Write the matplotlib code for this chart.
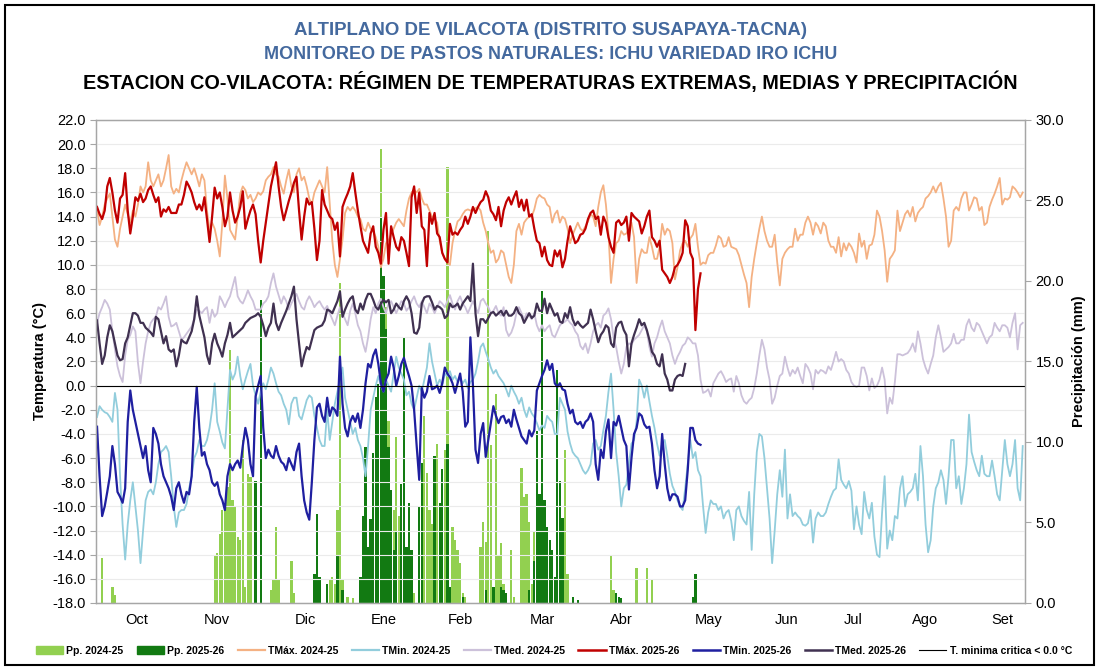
import matplotlib
matplotlib.use("Agg")
import matplotlib.pyplot as plt
import matplotlib.patches as patches
from matplotlib import font_manager
from matplotlib.lines import Line2D
import numpy as np

# fuente estrecha si existe (el original parece Calibri)
nombres = {f.name for f in font_manager.fontManager.ttflist}
fuente = 'Liberation Sans Narrow' if 'Liberation Sans Narrow' in nombres else 'Liberation Sans'
plt.rcParams['font.family'] = [fuente, 'DejaVu Sans']
plt.rcParams['axes.unicode_minus'] = False

# ---------------- datos (dia 0 = inicio de la campaña, mediados de setiembre) ----------------
meses = ['Oct', 'Nov', 'Dic', 'Ene', 'Feb', 'Mar', 'Abr', 'May', 'Jun', 'Jul', 'Ago', 'Set']
meses_dia = [15.5, 46.8, 81.4, 112, 142, 174, 205.2, 239.2, 269.8, 295.9, 323.9, 353.9]

tmax_2425 = [
    14.6, 13.3, 14.0, 15.0, 15.5, 15.9, 14.0, 12.1, 11.5, 13.0,
    14.0, 15.0, 14.2, 13.5, 14.5, 14.0, 15.0, 16.5, 16.0, 16.5,
    18.5, 17.0, 16.5, 17.0, 17.5, 16.5, 17.0, 18.0, 19.1, 16.5,
    15.9, 16.3, 16.0, 17.0, 17.8, 18.5, 18.0, 17.5, 18.0, 17.3,
    16.5, 17.5, 17.0, 14.5, 12.9, 13.5, 13.0, 12.0, 10.7, 13.5,
    17.4, 15.5, 12.9, 12.5, 12.1, 14.0, 15.9, 16.5, 16.2, 15.5,
    15.8, 15.2, 15.5, 16.0, 15.8, 16.1, 17.0, 17.3, 17.5, 18.1,
    17.5, 17.3, 16.5, 15.9, 17.0, 17.9, 16.5, 16.0, 17.5, 18.0,
    17.0, 17.3, 16.5, 15.5, 15.0, 16.0, 16.5, 17.0, 16.5, 16.0,
    18.1, 15.0, 12.0, 10.0, 9.0, 10.5, 12.1, 14.3, 14.8, 14.5,
    14.8, 14.5, 14.0, 13.8, 13.0, 12.8, 13.5, 13.0, 12.8, 12.3,
    11.5, 9.8, 10.5, 11.8, 12.0, 12.5, 13.0, 13.5, 13.8, 13.5,
    13.2, 14.5, 15.5, 16.0, 16.2, 16.0, 16.3, 15.5, 15.0, 15.0,
    14.5, 14.0, 13.8, 13.5, 12.0, 11.0, 10.5, 10.2, 10.0, 11.8,
    12.8, 13.6, 13.8, 14.2, 14.5, 14.6, 14.5, 14.6, 14.7, 14.8,
    14.5, 13.5, 12.8, 11.8, 11.0, 11.2, 10.2, 10.5, 11.2, 11.0,
    10.0, 9.0, 8.5, 10.0, 12.8, 13.4, 12.5, 13.5, 13.8, 14.0,
    14.0, 14.6, 15.5, 15.8, 15.6, 15.5, 15.0, 14.8, 13.5, 14.2,
    14.5, 13.5, 14.0, 13.8, 13.0, 11.8, 12.5, 13.0, 13.5, 13.0,
    12.8, 13.2, 13.6, 14.2, 14.0, 13.2, 14.8, 16.0, 16.6, 15.0,
    12.6, 8.5, 10.5, 11.8, 12.0, 12.8, 12.5, 12.6, 13.0, 13.5,
    12.3, 8.5, 10.5, 11.3, 11.0, 11.0, 12.3, 11.5, 10.5, 10.5,
    11.5, 13.4, 12.5, 13.0, 12.8, 11.8, 8.8, 9.8, 11.2, 11.8,
    12.0, 11.5, 12.2, 12.5, 13.4, 11.5, 10.0, 10.2, 10.1, 10.8,
    11.0, 11.0, 11.6, 12.4, 12.2, 11.5, 11.6, 12.3, 11.5, 11.4,
    11.3, 10.8, 10.0, 9.2, 8.5, 6.5, 9.0, 10.5, 11.8, 13.0,
    14.0, 12.8, 12.0, 11.5, 11.5, 12.5, 10.2, 8.3, 10.5, 11.0,
    11.3, 11.5, 11.5, 13.0, 12.0, 12.5, 12.5, 13.5, 14.0, 13.5,
    12.5, 13.5, 13.2, 12.6, 13.5, 13.2, 12.0, 11.5, 11.5, 11.0,
    12.3, 10.7, 11.8, 11.2, 11.8, 11.5, 11.0, 10.2, 12.6, 11.5,
    12.0, 10.5, 11.6, 11.7, 12.5, 14.5, 14.0, 12.8, 11.2, 8.6,
    10.5, 10.8, 11.2, 14.5, 12.8, 13.5, 14.2, 14.5, 14.0, 14.8,
    13.6, 14.3, 14.6, 14.8, 15.5, 15.7, 16.0, 16.5, 16.0, 16.5,
    16.8, 15.5, 14.0, 11.5, 12.0, 14.5, 14.8, 14.5, 15.5, 16.0,
    16.0, 14.5, 15.0, 15.6, 15.5, 14.5, 14.8, 13.3, 13.5, 14.8,
    15.4, 15.9, 16.5, 17.2, 15.0, 15.5, 15.4, 15.6, 16.5, 16.3,
    16.0, 15.6, 16.0]

tmin_2425 = [
    -2.6, -1.7, -2.0, -2.2, -2.3, -2.6, -3.0, -0.6, -2.0, -7.5,
    -11.5, -14.4, -11.5, -9.5, -8.0, -10.0, -12.0, -14.7, -12.0, -9.5,
    -8.8, -8.6, -9.0, -8.0, -6.5, -5.5, -5.3, -5.0, -5.5, -7.5,
    -10.0, -11.7, -10.5, -10.3, -10.3, -9.8, -8.5, -7.5, -6.0, -5.5,
    -4.5, -5.0, -5.0, -4.5, -3.5, -2.0, 0.2, -3.0, -3.8, -4.7,
    -5.2, -2.0, 1.3, 0.5, 1.0, 2.4, 0.8, -0.3, 0.5, 1.2,
    1.8, 0.0, -0.8, -1.5, -0.5, 0.2, -0.3, 0.5, 1.5, 1.0,
    0.2, -0.5, -0.8, -1.5, -2.0, -3.2, -1.5, -1.0, -1.0, -2.5,
    -2.8, -2.0, -1.2, -0.8, -1.0, -2.5, -3.5, -4.5, -5.0, -5.0,
    -2.0, -4.5, -3.0, -1.5, -0.5, 0.5, 1.5, -1.0, -2.0, -3.0,
    -4.0, -3.5, -4.5, -5.0, -6.0, -7.5, -5.0, -2.0, -1.0, 0.0,
    0.8, 0.0, -0.5, 0.5, 0.0, -0.5, 1.0, 2.4, 1.5, 1.0,
    0.5, -0.8, -0.5, -1.5, -2.0, -1.0, 0.0, -0.5, 0.5, 1.5,
    3.5, 2.0, 1.0, 0.0, 0.5, 0.0, 1.0, 0.8, 1.2, 0.5,
    0.8, 0.3, 0.6, 0.2, 0.5, -0.2, 0.3, 0.5, 1.0, 2.0,
    3.2, 3.5, 2.8, 2.2, 1.5, 1.0, 1.3, 0.8, 0.5, 0.2,
    -0.3, -0.9, 0.0, -0.5, -0.9, -1.5, -1.0, -2.0, -2.6, -1.8,
    -2.3, -2.6, -3.1, -3.7, -3.3, -3.5, -2.5, -2.8, -3.0, -4.0,
    -4.0, -1.0, -1.5, -2.0, -3.8, -4.8, -5.5, -5.8, -6.0, -6.5,
    -7.0, -7.3, -7.0, -6.5, -4.8, -4.5, -5.3, -5.0, -3.7, -2.5,
    -0.5, 1.0, -2.0, -5.5, -7.5, -10.0, -8.5, -8.2, -6.5, -4.8,
    -4.5, -3.0, 0.5, 0.0, -1.0, 0.0, -1.3, -2.5, -3.5, -4.8,
    -5.8, -4.8, -4.5, -5.8, -7.3, -8.3, -8.8, -9.5, -10.0, -10.3,
    -8.5, -6.5, -4.5, -6.0, -5.5, -7.0, -7.5, -10.0, -12.2, -10.5,
    -9.5, -9.8, -9.8, -10.3, -10.0, -11.0, -10.5, -10.3, -11.2, -12.8,
    -10.3, -10.0, -10.8, -11.2, -11.5, -8.8, -13.6, -9.0, -5.5, -4.0,
    -4.2, -6.0, -8.5, -11.0, -14.7, -12.0, -9.0, -7.0, -9.2, -5.3,
    -11.0, -9.0, -10.8, -10.5, -10.8, -11.0, -11.5, -11.6, -11.4, -10.3,
    -13.0, -11.0, -10.5, -10.8, -10.8, -10.5, -9.8, -9.2, -8.7, -8.5,
    -6.1, -7.8, -8.2, -8.5, -7.9, -8.7, -11.9, -10.0, -11.5, -12.3,
    -8.8, -10.3, -11.0, -9.7, -12.5, -14.0, -14.2, -10.5, -7.5, -13.5,
    -12.0, -12.8, -10.8, -11.0, -8.5, -7.5, -10.0, -9.0, -8.8, -8.5,
    -7.3, -9.5, -5.0, -7.5, -11.5, -13.8, -12.8, -10.0, -8.5, -8.0,
    -7.0, -7.8, -9.8, -7.5, -4.5, -4.5, -8.5, -7.5, -9.8, -8.5,
    -6.5, -2.4, -5.5, -6.3, -7.0, -7.5, -5.8, -7.3, -7.5, -7.5,
    -6.2, -7.5, -9.0, -9.5, -7.0, -4.5, -6.5, -7.5, -6.5, -4.5,
    -8.5, -9.5, -5.0]

tmed_2425 = [
    5.2, 6.0, 6.5, 7.1, 6.8, 6.3, 4.5, 3.0, 1.6, 0.8,
    0.3, 2.5, 3.8, 4.2, 4.9, 4.5, 1.9, 0.2, 2.0, 3.5,
    4.5, 5.2, 5.5, 5.7, 6.5, 6.3, 6.8, 7.4, 5.7, 4.9,
    5.0, 5.2, 4.5, 3.8, 4.0, 4.3, 4.6, 4.9, 5.5, 6.3,
    6.2, 6.0, 6.3, 6.5, 5.2, 6.3, 5.7, 6.0, 7.4, 7.0,
    6.5, 7.0, 7.4, 8.2, 9.0, 7.4, 7.0, 6.8, 7.3, 7.9,
    7.4, 7.0, 6.3, 6.3, 6.3, 6.8, 7.0, 7.4, 8.5, 9.3,
    8.2, 7.5, 6.8, 7.4, 7.0, 6.3, 6.8, 7.2, 7.6, 7.0,
    6.5, 6.3, 7.0, 7.4, 7.0, 6.5, 6.8, 7.0, 6.6, 6.3,
    6.6, 6.0, 5.5, 5.0, 5.8, 6.5, 6.0, 5.5, 5.0, 6.2,
    6.8, 6.0, 5.0, 4.5, 3.5, 2.8, 4.0, 5.5, 6.5, 6.0,
    6.8, 7.2, 6.5, 6.0, 6.8, 7.0, 6.5, 6.0, 6.5, 7.0,
    6.8, 6.2, 6.5, 7.0, 7.4, 6.8, 6.5, 7.0, 6.5, 6.0,
    6.8, 6.5, 6.0, 6.5, 7.0, 6.8, 6.5, 7.0, 7.5, 6.8,
    6.3, 7.0, 7.4, 6.8, 6.5, 6.0, 6.5, 7.0, 6.5, 6.0,
    7.0, 7.2, 6.8, 6.5, 6.0, 6.2, 6.6, 6.0, 5.8, 6.5,
    4.6, 4.1, 4.4, 5.0, 6.0, 6.5, 6.0, 5.5, 6.0, 5.8,
    5.5, 6.0, 5.0, 4.5, 5.0, 4.5, 4.8, 5.0, 4.2, 4.0,
    4.5, 5.0, 5.2, 5.3, 5.5, 5.2, 5.0, 4.5, 4.2, 3.3,
    3.0, 3.5, 2.7, 3.5, 4.5, 5.0, 5.2, 4.8, 5.8, 6.0,
    6.4, 5.5, 4.0, 3.2, 2.0, 1.0, 1.8, 3.2, 3.5, 3.4,
    3.8, 4.0, 4.2, 4.6, 5.0, 4.5, 3.2, 2.4, 3.5, 4.0,
    4.8, 5.4, 4.5, 4.0, 3.5, 2.5, 1.8, 2.4, 2.8, 3.3,
    3.5, 4.0, 3.8, 3.5, 3.5, 2.5, 0.5, -0.6, -0.5, -0.3,
    -0.9, 0.2, 0.6, 1.0, 1.2, 0.8, 0.3, 0.5, 0.6, -0.5,
    0.8, 0.2, -0.8, -1.3, -1.5, -1.2, -1.0, -0.2, 1.0, 2.5,
    3.8, 3.0, 1.5, 0.5, -1.5, -1.0, 0.0, 0.8, 1.0, 2.4,
    1.5, 0.8, 1.3, 1.0, 1.5, 0.8, 0.2, 1.8, 1.5, 1.0,
    -0.3, 1.3, 1.0, 1.3, 1.2, 1.0, 1.6, 1.3, 2.0, 2.8,
    2.0, 2.2, 2.0, 1.3, 1.0, 0.3, 0.0, -0.1, 0.0, 1.5,
    1.5, 0.8, -0.4, 0.6, -0.2, 0.0, 0.5, 1.5, 0.5, -2.3,
    -1.0, -1.5, 0.3, 2.6, 2.6, 2.5, 2.6, 2.7, 3.0, 3.5,
    2.8, 4.5, 3.5, 2.2, 1.5, 1.0, 1.8, 2.5, 4.0, 5.0,
    4.0, 2.8, 3.0, 3.2, 3.5, 4.3, 3.5, 3.5, 3.8, 3.8,
    5.0, 5.5, 4.8, 4.5, 5.2, 5.0, 4.5, 4.0, 3.5, 4.0,
    4.2, 5.2, 4.8, 4.5, 5.0, 5.0, 4.8, 4.0, 5.2, 6.0,
    3.0, 5.0, 5.2]

tmax_2526 = [
    14.8, 14.2, 13.8, 14.5, 16.5, 17.2, 16.0, 14.5, 13.5, 15.5,
    15.8, 17.6, 14.5, 12.6, 14.0, 15.6, 15.3, 15.9, 15.2, 15.5,
    16.2, 16.5, 15.8, 15.2, 15.6, 14.0, 14.6, 14.4, 14.8, 14.3,
    14.3, 14.3, 15.0, 15.0, 15.8, 16.9, 16.5, 16.0, 15.2, 14.6,
    15.0, 14.5, 15.6, 13.8, 11.9, 14.0, 16.4, 15.5, 16.0, 14.8,
    13.2, 14.0, 16.0, 14.5, 13.5, 14.0, 14.8, 16.1, 13.0, 13.8,
    14.5, 15.0, 14.2, 12.0, 10.2, 12.0, 13.5, 15.0, 16.5, 17.5,
    18.5, 16.5, 14.8, 13.7, 14.5, 15.3, 16.0, 16.8, 17.3, 14.5,
    12.1, 14.0, 15.5, 15.0, 15.2, 13.0, 10.4, 12.0, 16.2, 15.0,
    14.5, 14.0, 13.8, 12.9, 13.5, 10.7, 14.8, 15.4, 15.9, 16.5,
    17.6, 16.0, 14.5, 13.2, 12.0, 11.5, 11.0, 12.6, 13.2, 11.5,
    11.0, 10.1, 12.9, 14.3, 10.1, 13.2, 12.3, 11.5, 11.2, 12.3,
    12.0, 11.0, 9.9, 15.6, 16.5, 14.3, 16.0, 13.2, 12.9, 9.9,
    14.3, 13.4, 14.3, 12.6, 12.3, 11.0, 10.5, 10.2, 13.4, 12.5,
    12.7, 12.5, 12.9, 13.2, 14.0, 13.4, 14.0, 14.8, 14.3, 14.8,
    15.2, 15.4, 16.1, 15.6, 14.5, 14.2, 13.7, 14.8, 13.2, 14.5,
    15.2, 15.6, 15.0, 15.6, 16.1, 14.8, 15.4, 14.5, 15.4, 14.0,
    14.2, 13.0, 12.0, 11.8, 10.7, 11.5, 10.4, 10.0, 9.9, 11.2,
    10.7, 11.2, 9.8, 10.5, 12.0, 13.2, 12.5, 11.8, 12.0, 12.5,
    12.6, 13.0, 13.8, 14.3, 14.5, 13.8, 14.0, 12.5, 14.0, 13.5,
    12.3, 11.5, 11.0, 13.5, 13.7, 13.3, 13.5, 14.0, 12.0, 14.3,
    14.0, 13.8, 13.6, 12.6, 13.2, 14.0, 14.5, 12.3, 12.0, 11.5,
    12.0, 9.6, 9.3, 9.0, 8.5, 9.0, 9.8, 10.0, 10.4, 11.0,
    13.7, 13.2, 11.0, 10.5, 4.6, 8.0, 9.3]

tmin_2526 = [
    -3.4, -7.5, -10.8, -10.0, -8.8, -7.5, -5.0, -6.5, -8.8, -9.2,
    -9.7, -8.5, -3.0, -0.4, -2.0, -3.0, -4.0, -5.0, -6.0, -5.0,
    -7.0, -8.0, -3.5, -4.0, -4.8, -6.5, -7.5, -8.0, -8.5, -9.2,
    -10.3, -8.5, -8.0, -9.0, -9.7, -8.8, -9.0, -7.5, -3.0, -0.1,
    -3.5, -5.8, -5.5, -6.5, -7.0, -8.0, -8.3, -8.0, -9.0, -9.5,
    -10.3, -7.5, -6.5, -7.0, -6.5, -6.2, -6.8, -5.0, -3.5, -4.5,
    -6.5, -7.5, -0.9, 0.0, 0.8, -3.5, -6.0, -5.3, -5.8, -6.0,
    -5.0, -5.8, -6.3, -6.5, -7.0, -6.0, -6.5, -7.0, -5.5, -4.8,
    -7.5, -9.5, -10.5, -11.1, -8.0, -4.5, -1.8, -1.5, -2.5, -3.0,
    -1.0, -2.5, -1.8, -2.0, -2.5, 2.4, -1.5, -3.5, -4.2, -3.0,
    -2.5, -3.0, -2.3, -3.5, -2.0, 0.2, 1.8, 1.5, 2.5, 3.0,
    1.8, 0.2, -0.5, 0.5, 1.0, 2.4, 1.5, 0.0, 0.8, 1.8,
    2.3, 1.5, 0.8, 0.0, -2.0, -5.0, -7.8, -0.2, -1.0, -0.5,
    0.8, -0.3, -0.2, 0.0, -0.6, 0.2, 1.5, 1.0, 0.7, 0.2,
    -0.6, 0.2, 1.0, -0.5, -3.4, -3.0, 4.0, 0.0, -5.3, -6.4,
    -4.0, -3.1, -5.9, -4.5, -3.1, -1.7, -2.5, -3.1, -2.6, -2.5,
    -3.1, -2.8, -3.4, -2.0, -2.8, -3.5, -4.2, -4.5, -4.8, -3.7,
    -4.2, -3.7, -0.4, 0.2, 0.8, 1.3, 2.1, 1.3, 1.8, 0.2,
    -0.1, 0.2, -0.3, -0.4, -1.5, -2.3, -2.0, -3.0, -3.2, -3.0,
    -3.5, -3.0, -2.8, -2.3, -3.0, -6.5, -7.8, -5.3, -6.0, -3.8,
    -2.8, -6.0, -3.0, -3.3, -2.5, -3.5, -4.5, -5.0, -8.6, -6.0,
    -4.0, -3.5, -2.3, -2.5, -3.2, -3.5, -3.4, -4.8, -7.0, -8.5,
    -7.5, -4.0, -6.5, -8.5, -9.5, -9.0, -9.0, -9.2, -10.0, -10.0,
    -9.5, -7.0, -3.5, -3.5, -4.5, -4.8, -4.9]

tmed_2526 = [
    5.4, 3.5, 1.8, 2.5, 4.0, 5.0, 4.5, 3.5, 2.5, 2.1,
    2.2, 3.5, 4.0, 5.0, 6.0, 6.0, 5.8, 5.2, 5.2, 4.8,
    4.6, 4.4, 4.1, 5.7, 5.5, 4.5, 3.5, 4.1, 3.0, 2.8,
    3.0, 1.6, 2.5, 3.8, 3.6, 3.5, 4.0, 4.5, 5.5, 7.4,
    5.8, 4.9, 4.0, 2.5, 1.8, 3.5, 4.3, 3.5, 3.0, 2.4,
    3.5, 4.2, 5.2, 4.0, 4.2, 4.4, 4.6, 4.8, 5.2, 5.4,
    5.6, 5.7, 5.8, 6.0, 5.7, 5.0, 4.1, 4.8, 5.2, 6.8,
    5.2, 4.6, 5.2, 5.7, 6.2, 6.8, 7.4, 8.2, 5.5, 3.5,
    1.6, 2.5, 3.2, 3.0, 3.8, 4.6, 4.8, 4.9, 5.0, 5.4,
    6.3, 6.2, 6.0, 6.5, 7.0, 7.8, 5.7, 6.3, 6.8, 7.2,
    7.4, 6.3, 6.0, 6.8, 6.3, 7.1, 7.6, 7.6, 7.1, 6.5,
    6.3, 6.8, 7.1, 6.9, 7.1, 6.0, 6.3, 6.8, 6.5, 6.3,
    7.0, 7.4, 7.0, 6.0, 4.4, 4.3, 4.8, 6.8, 7.3, 7.4,
    7.4, 6.9, 6.3, 6.6, 6.5, 6.3, 5.6, 5.8, 6.8, 6.5,
    6.6, 6.8, 6.3, 6.8, 7.1, 7.4, 7.0, 10.1, 6.0, 4.1,
    5.5, 5.5, 5.2, 5.6, 6.0, 6.1, 5.8, 6.0, 6.2, 5.8,
    6.2, 5.8, 5.8, 6.0, 6.5, 6.0, 5.8, 5.2, 5.6, 6.0,
    5.6, 5.8, 6.8, 6.2, 6.2, 7.2, 6.0, 6.8, 6.3, 5.8,
    6.0, 5.3, 5.2, 6.0, 5.6, 6.5, 5.5, 5.0, 5.3, 5.0,
    4.8, 5.0, 5.2, 6.3, 5.5, 4.5, 3.6, 4.2, 4.5, 5.0,
    4.8, 3.5, 3.2, 4.8, 5.2, 5.3, 4.6, 4.2, 1.6, 3.5,
    4.2, 4.8, 5.5, 5.0, 5.2, 4.6, 3.8, 2.8, 2.5, 1.8,
    1.6, 2.6, 1.0, 0.5, -0.4, -0.4, 0.5, 0.8, 0.9, 0.8,
    1.8]

# precipitacion diaria (solo dias con lluvia)
pp_2425_dia = [2, 6, 7, 46, 47, 48, 49, 50, 51, 52, 53, 54, 55, 56, 57, 58, 59, 60,
               68, 69, 70, 71, 76, 77, 91, 92, 93, 94, 95, 96, 98, 100,
               111, 113, 114, 115, 116, 117, 118, 122, 124, 126, 128, 129, 130, 131,
               133, 134, 136, 137, 139, 140, 141, 142, 143, 144,
               150, 151, 152, 153, 154, 156, 157, 158, 159, 162, 163,
               166, 167, 168, 169, 170, 171, 177, 183, 184, 201, 202, 211, 215, 217]
pp_2425_mm = [2.8, 1.0, 0.5, 3.0, 3.1, 4.3, 5.8, 6.2, 7.2, 15.7, 6.4, 6.0, 4.1, 3.9, 10.1, 1.0, 8.0, 7.8,
              0.8, 1.4, 4.7, 1.4, 2.6, 0.6, 1.4, 1.6, 1.2, 5.8, 19.9, 1.4, 0.4, 0.3,
              28.2, 18.4, 11.3, 7.0, 5.8, 10.3, 5.4, 2.1, 0.6, 2.1, 11.6, 8.1, 5.8, 4.9,
              9.9, 3.9, 9.5, 27.1, 4.7, 3.9, 3.3, 2.5, 0.6, 0.4,
              3.5, 5.0, 3.8, 23.1, 9.8, 13.0, 2.9, 3.7, 1.2, 3.3, 0.4,
              8.4, 6.6, 6.8, 5.0, 1.2, 4.4, 1.8, 9.5, 1.8, 2.9, 0.8, 2.2, 2.2, 1.4]

pp_2526_dia = [62, 64, 85, 86, 87, 90, 94, 96,
               103, 104, 105, 106, 107, 108, 109, 110, 111, 112, 113,
               114, 115, 116, 117, 119, 120, 121, 122, 123, 126, 127, 132, 134, 135, 137, 138,
               143, 152, 155, 158, 159, 160, 169, 171,
               172, 173, 174, 175, 176, 177, 178, 179, 180, 181, 182, 186, 188,
               203, 204, 205, 233, 234]
pp_2526_mm = [7.6, 18.8, 1.8, 5.5, 1.6, 1.2, 3.0, 0.8,
              1.6, 5.4, 9.7, 3.5, 5.2, 9.3, 12.8, 13.6, 24.0, 20.3, 17.0,
              9.7, 7.0, 3.3, 4.5, 7.4, 16.5, 3.5, 6.2, 3.3, 6.0, 8.7, 9.1, 6.2, 8.3, 9.9, 1.0,
              0.4, 0.8, 1.0, 1.0, 0.8, 0.6, 0.8, 2.6,
              10.7, 6.8, 19.4, 6.4, 4.7, 3.9, 3.3, 1.6, 14.5, 7.6, 5.3, 0.4, 0.2,
              0.6, 0.4, 0.3, 0.4, 1.8]

t_critica = 0.0

# ---------------- colores ----------------
c_pp_2425 = '#92D050'
c_pp_2526 = '#127A12'
c_tmax_2425 = '#F4B183'
c_tmin_2425 = '#92CDDC'
c_tmed_2425 = '#CCC1DA'
c_tmax_2526 = '#C00000'
c_tmin_2526 = '#1F1FA0'
c_tmed_2526 = '#403151'
azul_titulo = '#44699E'
gris_eje = '#A6A6A6'

fig = plt.figure(figsize=(11.01, 6.70), dpi=100)
ax = fig.add_axes([0.0872, 0.1, 0.8438, 0.7209])
ax2 = ax.twinx()
ax.set_zorder(ax2.get_zorder() + 1)   # lineas sobre las barras
ax.patch.set_visible(False)

# barras de precipitacion (eje derecho)
ax2.bar(pp_2425_dia, pp_2425_mm, width=0.9, color=c_pp_2425, linewidth=0)
ax2.bar(pp_2526_dia, pp_2526_mm, width=0.9, color=c_pp_2526, linewidth=0)
ax2.set_ylim(0, 30)
ax2.set_yticks(np.arange(0, 30.1, 5))
ax2.set_yticklabels([f'{v:.1f}' for v in np.arange(0, 30.1, 5)])
ax2.set_ylabel('Precipitación (mm)', fontsize=10.5, fontweight='bold', labelpad=6)

# temperaturas
ax.plot(np.arange(len(tmax_2425)), tmax_2425, color=c_tmax_2425, lw=1.3)
ax.plot(np.arange(len(tmin_2425)), tmin_2425, color=c_tmin_2425, lw=1.3)
ax.plot(np.arange(len(tmed_2425)), tmed_2425, color=c_tmed_2425, lw=1.3)
ax.plot(np.arange(len(tmax_2526)), tmax_2526, color=c_tmax_2526, lw=1.6)
ax.plot(np.arange(len(tmin_2526)), tmin_2526, color=c_tmin_2526, lw=1.6)
ax.plot(np.arange(len(tmed_2526)), tmed_2526, color=c_tmed_2526, lw=1.6)
ax.axhline(t_critica, color='black', lw=0.8)

ax.set_xlim(-0.4, 362.9)
ax.set_ylim(-18, 22)
ax.set_yticks(np.arange(-18, 22.1, 2))
ax.set_yticklabels([f'{v:.1f}' for v in np.arange(-18, 22.1, 2)])
ax.yaxis.grid(True, color='#EBEBEB', lw=0.8)
ax.set_axisbelow(True)
ax.set_xticks(meses_dia)
ax.set_xticklabels(meses)
ax.tick_params(axis='x', length=0, pad=7, labelsize=10.5)
ax.tick_params(axis='y', length=4, color=gris_eje, labelsize=10.5)
ax2.tick_params(axis='y', length=4, color=gris_eje, labelsize=10.5)
ax.set_ylabel('Temperatura (°C)', fontsize=10.5, fontweight='bold', labelpad=4)
for a in (ax, ax2):
    for s in a.spines.values():
        s.set_color(gris_eje)
        s.set_linewidth(0.9)

# titulos
fig.text(0.5, 0.955, 'ALTIPLANO DE VILACOTA (DISTRITO SUSAPAYA-TACNA)', ha='center', va='center',
         fontsize=13.4, fontweight='bold', color=azul_titulo)
fig.text(0.5, 0.918, 'MONITOREO DE PASTOS NATURALES: ICHU VARIEDAD IRO ICHU', ha='center', va='center',
         fontsize=13, fontweight='bold', color=azul_titulo)
fig.text(0.5, 0.877, 'ESTACION CO-VILACOTA: RÉGIMEN DE TEMPERATURAS EXTREMAS, MEDIAS Y PRECIPITACIÓN',
         ha='center', va='center', fontsize=14.3, fontweight='bold', color='black')

# leyenda
handles = [patches.Patch(color=c_pp_2425), patches.Patch(color=c_pp_2526),
           Line2D([], [], color=c_tmax_2425, lw=1.6), Line2D([], [], color=c_tmin_2425, lw=1.6),
           Line2D([], [], color=c_tmed_2425, lw=1.6), Line2D([], [], color=c_tmax_2526, lw=1.8),
           Line2D([], [], color=c_tmin_2526, lw=1.8), Line2D([], [], color=c_tmed_2526, lw=1.8),
           Line2D([], [], color='black', lw=0.8)]
etiquetas = ['Pp. 2024-25', 'Pp. 2025-26', 'TMáx. 2024-25', 'TMin. 2024-25', 'TMed. 2024-25',
             'TMáx. 2025-26', 'TMin. 2025-26', 'TMed. 2025-26', 'T. minima critica < 0.0 °C']
fig.legend(handles, etiquetas, loc='center', bbox_to_anchor=(0.503, 0.029), ncol=9, frameon=False,
           prop={'size': 7.5, 'weight': 'bold'}, handlelength=2.6, handleheight=0.9,
           handletextpad=0.3, columnspacing=1.3)

# marco de la figura
fig.add_artist(patches.Rectangle((0.0045, 0.0075), 0.9891, 0.9851, transform=fig.transFigure,
                                 fill=False, edgecolor='black', linewidth=1.5))

fig.savefig('out.png', dpi=100)
